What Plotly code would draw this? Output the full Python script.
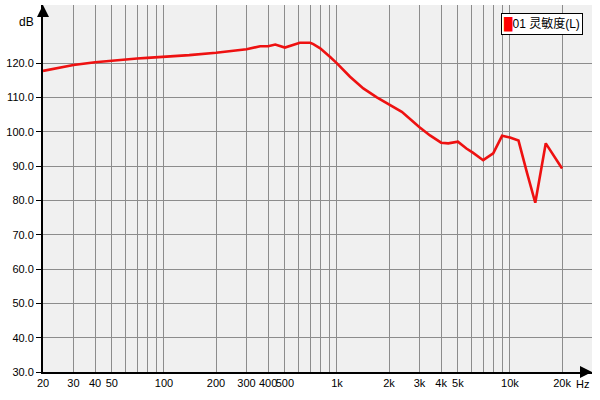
import plotly.graph_objects as go
import math

freq_hz = [20, 30, 40, 50, 60, 70, 80, 100, 140, 200, 300, 360, 400, 440, 500, 610, 700, 730,
           800, 910, 1000, 1190, 1420, 1700, 2000, 2370, 3000, 3450, 4000, 4400, 5000, 5600,
           6100, 7000, 8000, 9000, 10000, 11200, 12500, 14000, 16100, 20000]
level_db = [117.7, 119.4, 120.2, 120.7, 121.0, 121.3, 121.5, 121.8, 122.3, 123.0, 124.0, 124.9,
            124.9, 125.4, 124.5, 125.9, 125.9, 125.5, 124.3, 121.8, 119.9, 116.0, 112.6, 110.0,
            108.0, 105.8, 101.3, 98.9, 96.8, 96.6, 97.1, 95.1, 93.9, 91.7, 93.7, 98.8, 98.3,
            97.4, 88.3, 79.3, 96.6, 89.3]
series_name = "01 灵敏度(L)"

grid_freqs = [20, 30, 40, 50, 60, 70, 80, 90, 100, 200, 300, 400, 500, 600, 700, 800, 900,
              1000, 2000, 3000, 4000, 5000, 6000, 7000, 8000, 9000, 10000, 20000]
x_labels = {20: "20", 30: "30", 40: "40", 50: "50", 100: "100", 200: "200", 300: "300",
            400: "400", 500: "500", 1000: "1k", 2000: "2k", 3000: "3k", 4000: "4k",
            5000: "5k", 10000: "10k", 20000: "20k"}
y_ticks = [30, 40, 50, 60, 70, 80, 90, 100, 110, 120]

FONT = "Liberation Sans, Arial, Noto Sans CJK SC, sans-serif"
LINE_COLOR = "#ee1111"

fig = go.Figure()
fig.add_trace(go.Scatter(x=freq_hz, y=level_db, mode="lines", name=series_name,
                         showlegend=False, line=dict(color=LINE_COLOR, width=2.6)))

fig.update_layout(
    width=600, height=400,
    margin=dict(l=43, r=8, t=5, b=28, autoexpand=False),
    paper_bgcolor="white", plot_bgcolor="#f0f0f0",
    font=dict(family=FONT, size=11, color="black"),
    showlegend=False,
    xaxis=dict(type="log", range=[math.log10(20), 4.474], automargin=False,
               tickvals=grid_freqs,
               ticktext=[x_labels.get(f, "") for f in grid_freqs],
               showgrid=True, gridcolor="#8c8c8c", gridwidth=1,
               showline=True, linecolor="black", linewidth=2,
               ticks="", tickangle=0, zeroline=False),
    yaxis=dict(range=[30, 136.9], tickvals=y_ticks, automargin=False,
               ticktext=[f"{v:.1f}" for v in y_ticks],
               showgrid=True, gridcolor="#8c8c8c", gridwidth=1,
               showline=True, linecolor="black", linewidth=2,
               ticks="outside", ticklen=5, tickcolor="black",
               zeroline=False),
)

# legend box (series name drawn with its colour swatch)
fig.add_annotation(x=0.984, y=0.978, xref="paper", yref="paper", xanchor="right", yanchor="top",
                   text=f"<span style='color:#ff0000'>█</span>{series_name}",
                   showarrow=False, bgcolor="white", bordercolor="black", borderwidth=1,
                   borderpad=2, font=dict(size=12))

# axis arrows
fig.add_annotation(x=0, y=1, xref="paper", yref="paper", text="", showarrow=True,
                   ax=0, ay=12, arrowhead=2, arrowsize=1.2, arrowwidth=2, arrowcolor="black")
fig.add_annotation(x=1, y=0, xref="paper", yref="paper", text="", showarrow=True,
                   ax=-12, ay=0, arrowhead=2, arrowsize=1.2, arrowwidth=2, arrowcolor="black")
fig.add_annotation(x=0, y=131.9, xref="paper", yref="y", text="dB", showarrow=False,
                   xanchor="right", xshift=-7, font=dict(size=12))
fig.add_annotation(x=0.991, y=0, xref="paper", yref="paper", text="Hz", showarrow=False,
                   yanchor="top", yshift=-4, xshift=4, font=dict(size=11))

fig.write_html("out.html", config={"displayModeBar": False},
               post_script="document.body.style.margin='0';")
